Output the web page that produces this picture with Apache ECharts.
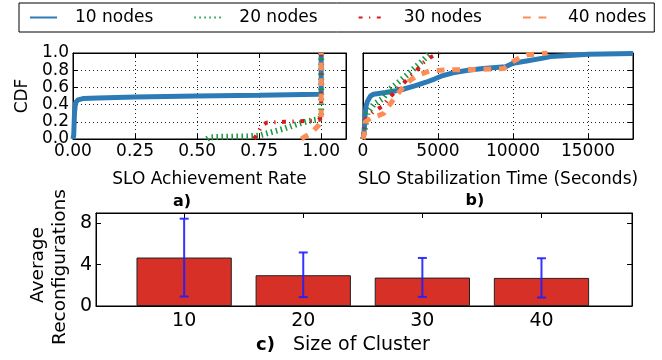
<!DOCTYPE html>
<html><head><meta charset="utf-8">
<script src="https://cdn.jsdelivr.net/npm/echarts@6/dist/echarts.min.js"></script>
<style>html,body{margin:0;padding:0;background:#fff}#c{width:662px;height:360px}</style>
</head><body><div id="c"></div>
<script>
// ---------- data ----------
const legendNames = ['10 nodes', '20 nodes', '30 nodes', '40 nodes'];

// a) CDF of SLO achievement rate: [rate, cdf]
const slo10 = [[0,0],[0.003,0.05],[0.006,0.3],[0.01,0.42],[0.02,0.455],[0.04,0.47],[0.1,0.478],[0.25,0.488],[0.5,0.5],[0.75,0.51],[0.99,0.52],[1.0,0.53],[1.0,1.0]];
const slo20 = [[0.54,0],[0.55,0.02],[0.6,0.025],[0.7,0.03],[0.75,0.04],[0.8,0.08],[0.85,0.12],[0.9,0.17],[0.95,0.21],[0.99,0.23],[1.0,0.25],[1.0,1.0]];
const slo30 = [[0.73,0],[0.74,0.05],[0.76,0.15],[0.78,0.19],[0.85,0.2],[0.95,0.21],[0.99,0.22],[1.0,0.25],[1.0,1.0]];
const slo40 = [[0.92,0],[0.93,0.02],[0.95,0.05],[0.97,0.1],[0.99,0.16],[1.0,0.2],[1.0,1.0]];

// b) CDF of SLO stabilization time: [seconds, cdf]
const stab10 = [[0,0],[50,0.05],[100,0.15],[150,0.3],[200,0.38],[300,0.44],[500,0.5],[700,0.52],[1500,0.54],[2500,0.57],[3500,0.62],[4200,0.66],[4800,0.7],[5200,0.73],[6000,0.77],[7000,0.8],[8000,0.82],[9500,0.84],[10000,0.88],[11000,0.91],[12000,0.94],[12500,0.96],[14000,0.975],[15000,0.985],[18000,0.995]];
const stab20 = [[0,0],[100,0.1],[200,0.2],[300,0.3],[700,0.4],[1300,0.47],[1800,0.58],[2300,0.65],[2900,0.74],[3400,0.82],[3900,0.9],[4500,1.0]];
const stab30 = [[0,0],[50,0.1],[150,0.22],[700,0.32],[1300,0.38],[1700,0.47],[2200,0.56],[3000,0.7],[3500,0.78],[3950,0.88],[4500,0.95],[5100,1.0]];
const stab40 = [[0,0],[80,0.05],[150,0.2],[500,0.24],[1000,0.27],[1400,0.3],[1700,0.38],[2000,0.45],[2700,0.61],[3200,0.69],[3700,0.745],[4500,0.795],[6000,0.805],[8000,0.81],[9400,0.82],[10000,0.9],[10500,0.95],[11000,0.98],[12300,1.0]];

// c) average reconfigurations per cluster size
const clusterSizes = [10, 20, 30, 40];
const avgReconf = [4.69, 2.98, 2.75, 2.72];
const errLow = [0.92, 0.86, 0.88, 0.82];
const errHigh = [8.45, 5.18, 4.65, 4.62];

// tick values
const clusterTicks = [10, 20, 30, 40];
const reconfTicks = [0, 4, 8];

// ---------- styles ----------
const F = 'DejaVu Sans';
const colors = ['#2c7bb6', '#1a9641', '#d7191c', '#fc8d59'];
const dashes = ['solid', [1.5, 3.5], [3.9, 6.5, 1.3, 6.5], [7.8, 7.8]];
const widths = [5, 6, 4, 5];
const gridLine = {show: true, lineStyle: {color: '#222', width: 1, type: [1, 3]}};
const tick = {show: true, inside: true, length: 5, lineStyle: {color: '#000', width: 1}};
const axLine = {show: true, onZero: false, lineStyle: {color: '#000', width: 1}};
const lbl = {fontSize: 17, fontFamily: F, color: '#000'};

const gA = {left: 73, top: 53, width: 273, height: 86};
const gB = {left: 363, top: 53, width: 270, height: 86};
const gC = {left: 96, top: 213, width: 536, height: 93};
const cMin = 2.6, cMax = 47.6;

function sideAxis(grid, pos, min, max, interval, extra) {
  return Object.assign({type: 'value', gridIndex: grid, position: pos, min, max, interval,
    axisLine: axLine, axisTick: tick, axisLabel: {show: false}, splitLine: {show: false}}, extra || {});
}

const xAxis = [
  sideAxis(0, 'bottom', 0, 1.1, 0.25, {
    axisLabel: Object.assign({formatter: v => v.toFixed(2), margin: 4, showMaxLabel: false}, lbl),
    splitLine: gridLine,
    name: 'SLO Achievement Rate', nameLocation: 'middle', nameGap: 32, nameTextStyle: lbl}),
  sideAxis(0, 'top', 0, 1.1, 0.25),
  sideAxis(1, 'bottom', 0, 18000, 5000, {
    axisLabel: Object.assign({formatter: v => String(v), margin: 4, showMaxLabel: false}, lbl),
    splitLine: gridLine,
    name: 'SLO Stabilization Time (Seconds)', nameLocation: 'middle', nameGap: 32, nameTextStyle: lbl}),
  sideAxis(1, 'top', 0, 18000, 5000),
  {type: 'value', gridIndex: 2, position: 'bottom', min: cMin, max: cMax,
    axisLine: axLine,
    axisTick: Object.assign({customValues: clusterTicks}, tick),
    axisLabel: Object.assign({customValues: clusterTicks, margin: 6}, lbl, {fontSize: 19}),
    splitLine: {show: false}},
  {type: 'value', gridIndex: 2, position: 'top', min: cMin, max: cMax,
    axisLine: axLine,
    axisTick: Object.assign({customValues: clusterTicks}, tick),
    axisLabel: {show: false}, splitLine: {show: false}}
];

const yAxis = [
  sideAxis(0, 'left', 0, 1, 0.2, {
    axisLabel: Object.assign({formatter: v => v.toFixed(1), margin: 4}, lbl),
    splitLine: gridLine,
    name: 'CDF', nameLocation: 'middle', nameGap: 42, nameTextStyle: lbl}),
  sideAxis(0, 'right', 0, 1, 0.2),
  sideAxis(1, 'left', 0, 1, 0.2, {splitLine: gridLine}),
  sideAxis(1, 'right', 0, 1, 0.2),
  sideAxis(2, 'left', 0, 9, 4, {
    axisLabel: Object.assign({margin: 4, showMaxLabel: false}, lbl, {fontSize: 19})}),
  sideAxis(2, 'right', 0, 9, 4)
];

function lineSeries(i, data, xi, yi) {
  return {type: 'line', name: legendNames[i], xAxisIndex: xi, yAxisIndex: yi, data,
    symbol: 'none', animation: false, z: 2 + i,
    lineStyle: {color: colors[i], width: widths[i], type: dashes[i], cap: 'butt'},
    itemStyle: {color: colors[i]}};
}

const sloSets = [slo10, slo20, slo30, slo40];
const stabSets = [stab10, stab20, stab30, stab40];
const series = [];
sloSets.forEach((d, i) => series.push(lineSeries(i, d, 0, 0)));
stabSets.forEach((d, i) => series.push(lineSeries(i, d, 2, 2)));

const barWidth = 8 * gC.width / (cMax - cMin);
series.push({type: 'bar', xAxisIndex: 4, yAxisIndex: 4, animation: false, barWidth,
  data: clusterSizes.map((s, i) => [s, avgReconf[i]]),
  itemStyle: {color: '#d73027', borderColor: '#222', borderWidth: 1}});
series.push({type: 'custom', xAxisIndex: 4, yAxisIndex: 4, animation: false, z: 10,
  data: clusterSizes.map((s, i) => [s, errLow[i], errHigh[i]]),
  encode: {x: 0, y: [1, 2]},
  renderItem: (params, api) => {
    const x = api.value(0);
    const lo = api.coord([x, api.value(1)]);
    const hi = api.coord([x, api.value(2)]);
    const st = {stroke: '#1f1fff', lineWidth: 2, opacity: 0.9};
    const w = 4.5;
    return {type: 'group', children: [
      {type: 'line', shape: {x1: lo[0], y1: lo[1], x2: hi[0], y2: hi[1]}, style: st},
      {type: 'line', shape: {x1: hi[0] - w, y1: hi[1], x2: hi[0] + w, y2: hi[1]}, style: st},
      {type: 'line', shape: {x1: lo[0] - w, y1: lo[1], x2: lo[0] + w, y2: lo[1]}, style: st}
    ]};
  }});

const yNameFont = '18.5px "DejaVu Sans"';
const chart = echarts.init(document.getElementById('c'), null, {renderer: 'canvas'});
chart.setOption({
  animation: false,
  backgroundColor: '#fff',
  textStyle: {fontFamily: F},
  grid: [
    Object.assign({show: true, borderColor: '#000', borderWidth: 1, backgroundColor: 'transparent'}, gA),
    Object.assign({show: true, borderColor: '#000', borderWidth: 1, backgroundColor: 'transparent'}, gB),
    Object.assign({show: true, borderColor: '#000', borderWidth: 1, backgroundColor: 'transparent'}, gC)
  ],
  legend: {
    data: legendNames, left: 19, top: 3, padding: [6, 8, 6, 10],
    borderColor: '#000', borderWidth: 1, borderRadius: 0,
    itemWidth: 27, itemHeight: 14, itemGap: 40,
    itemStyle: {opacity: 0},
    textStyle: Object.assign({padding: [0, 0, 0, 13]}, lbl),
    selectedMode: false
  },
  graphic: [
    {type: 'text', x: 182, y: 202, style: {text: 'a)', font: 'bold 16px "DejaVu Sans"', fill: '#000', align: 'center', verticalAlign: 'middle'}},
    {type: 'text', x: 475, y: 201, style: {text: 'b)', font: 'bold 16px "DejaVu Sans"', fill: '#000', align: 'center', verticalAlign: 'middle'}},
    {type: 'text', x: 38, y: 265, rotation: Math.PI / 2, style: {text: 'Average', font: yNameFont, fill: '#000', align: 'center', verticalAlign: 'middle'}},
    {type: 'text', x: 60, y: 267, rotation: Math.PI / 2, style: {text: 'Reconfigurations', font: yNameFont, fill: '#000', align: 'center', verticalAlign: 'middle'}},
    {type: 'text', x: 256, y: 345, style: {
      text: '{b|c)}   {n|Size of Cluster}', align: 'left', verticalAlign: 'middle',
      rich: {b: {fontWeight: 'bold', fontSize: 18, fontFamily: F, fill: '#000'},
             n: {fontSize: 19, fontFamily: F, fill: '#000'}},
      fontSize: 19, fontFamily: F, fill: '#000'}}
  ],
  xAxis, yAxis, series
});
</script></body></html>
